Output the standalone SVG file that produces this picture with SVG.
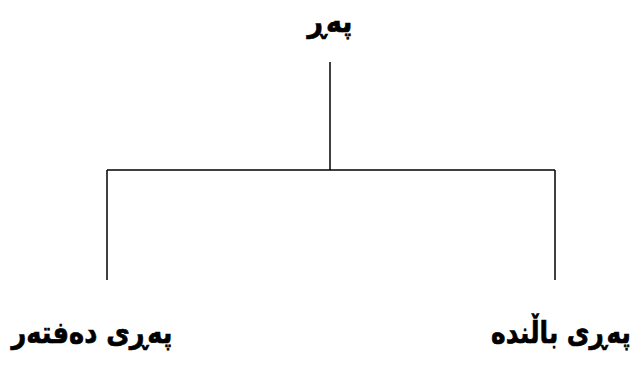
<svg xmlns="http://www.w3.org/2000/svg" width="636" height="366" viewBox="0 0 636 366">
<style>
.t{font-family:"DejaVu Sans",sans-serif;font-weight:bold;font-size:27px;fill:#000;stroke:#000;stroke-width:0.6;text-anchor:middle}
.c line{stroke:#000;stroke-width:1.5}
</style>
<rect width="636" height="366" fill="#fff"/>
<g class="c" id="connectors">
<line x1="330" y1="62" x2="330" y2="170"/>
<line x1="107" y1="170" x2="555" y2="170"/>
<line x1="107" y1="170" x2="107" y2="280"/>
<line x1="555" y1="170" x2="555" y2="280"/>
</g>
<g id="root"><text class="t" transform="translate(330,32) scale(1,1.12)" direction="rtl">پەڕ</text></g>
<g id="left"><text class="t" transform="translate(92,343) scale(0.95,1.12)" direction="rtl">پەڕی دەفتەر</text></g>
<g id="right"><text class="t" transform="translate(561,343) scale(0.92,1.12)" direction="rtl">پەڕی باڵندە</text></g>
</svg>
